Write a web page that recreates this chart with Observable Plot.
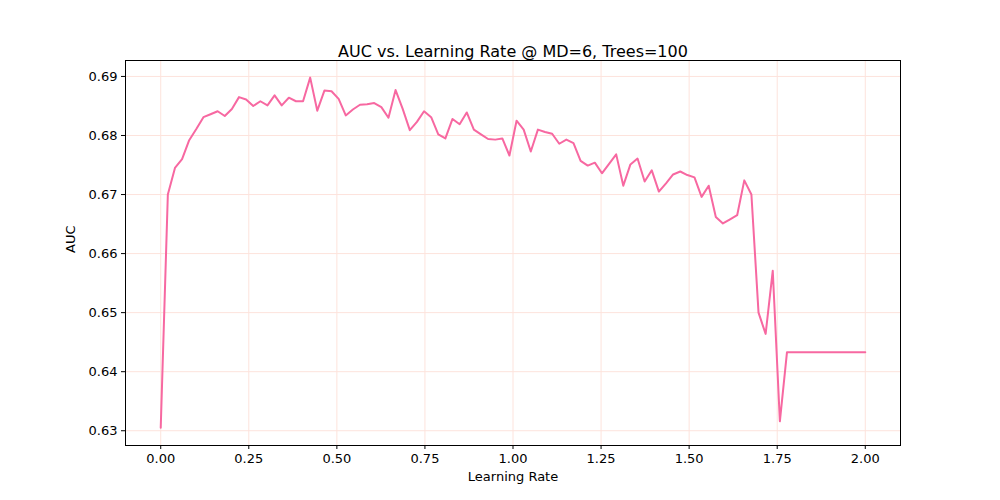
<!DOCTYPE html>
<html>
<head>
<meta charset="utf-8">
<script src="https://cdn.jsdelivr.net/npm/d3@7"></script>
<script src="https://cdn.jsdelivr.net/npm/@observablehq/plot@0.6"></script>
<style>
  body { margin: 0; background: #fff; }
  svg { font-family: "DejaVu Sans", sans-serif; }
</style>
</head>
<body>
<div id="chart"></div>
<script>
// AUC per learning rate, 100 rates evenly spaced from 0 to 2
const auc = [
  0.6305, 0.6700, 0.6745, 0.6760, 0.6792, 0.6811, 0.6831, 0.6836, 0.6841, 0.6833,
  0.6845, 0.6865, 0.6861, 0.6850, 0.6858, 0.6851, 0.6868, 0.6851, 0.6864, 0.6858,
  0.6858, 0.6898, 0.6842, 0.6876, 0.6875, 0.6862, 0.6834, 0.6844, 0.6852, 0.6853,
  0.6855, 0.6848, 0.6830, 0.6877, 0.6845, 0.6809, 0.6823, 0.6841, 0.6831, 0.6802,
  0.6795, 0.6828, 0.6819, 0.6839, 0.6810, 0.6802, 0.6794, 0.6793, 0.6795, 0.6766,
  0.6825, 0.6810, 0.6773, 0.6810, 0.6806, 0.6803, 0.6786, 0.6793, 0.6787, 0.6757,
  0.6749, 0.6754, 0.6736, 0.6752, 0.6768, 0.6715, 0.6751, 0.6761, 0.6722, 0.6741,
  0.6705, 0.6719, 0.6734, 0.6739, 0.6733, 0.6729, 0.6696, 0.6715, 0.6662, 0.6651,
  0.6658, 0.6665, 0.6724, 0.6700, 0.6500, 0.6464, 0.6571, 0.6316, 0.6433, 0.6433,
  0.6433, 0.6433, 0.6433, 0.6433, 0.6433, 0.6433, 0.6433, 0.6433, 0.6433, 0.6433
];
const rateMax = 2;
const xTicks = [0, 0.25, 0.5, 0.75, 1, 1.25, 1.5, 1.75, 2];
const yTicks = [0.63, 0.64, 0.65, 0.66, 0.67, 0.68, 0.69];

const rows = auc.map((v, i) => ({lr: i * rateMax / (auc.length - 1), auc: v}));
const gridColor = "#fde3dc";

const chart = Plot.plot({
  width: 1000,
  height: 500,
  marginLeft: 125,
  marginRight: 100,
  marginTop: 60,
  marginBottom: 55,
  style: {fontSize: "13px", fontFamily: "DejaVu Sans, sans-serif", color: "#000"},
  x: {domain: [-0.1, 2.1], ticks: xTicks, tickFormat: d3.format(".2f")},
  y: {domain: [0.6275, 0.6927], ticks: yTicks, tickFormat: d3.format(".2f")},
  marks: [
    Plot.gridX(xTicks, {stroke: gridColor, strokeOpacity: 1}),
    Plot.gridY(yTicks, {stroke: gridColor, strokeOpacity: 1}),
    Plot.line(rows, {x: "lr", y: "auc", stroke: "#f768a1", strokeWidth: 2}),
    Plot.axisX(xTicks, {tickSize: 4, tickPadding: 4, label: null, tickFormat: d3.format(".2f")}),
    Plot.axisY(yTicks, {tickSize: 4, tickPadding: 4, label: null, tickFormat: d3.format(".2f")}),
    Plot.frame({stroke: "#000"}),
    Plot.text(["AUC vs. Learning Rate @ MD=6, Trees=100"], {frameAnchor: "top", dy: -15, fontSize: 16}),
    Plot.text(["Learning Rate"], {frameAnchor: "bottom", dy: 35, fontSize: 13}),
    Plot.text(["AUC"], {frameAnchor: "left", dx: -55, rotate: -90, fontSize: 13})
  ]
});
document.getElementById("chart").append(chart);
</script>
</body>
</html>
